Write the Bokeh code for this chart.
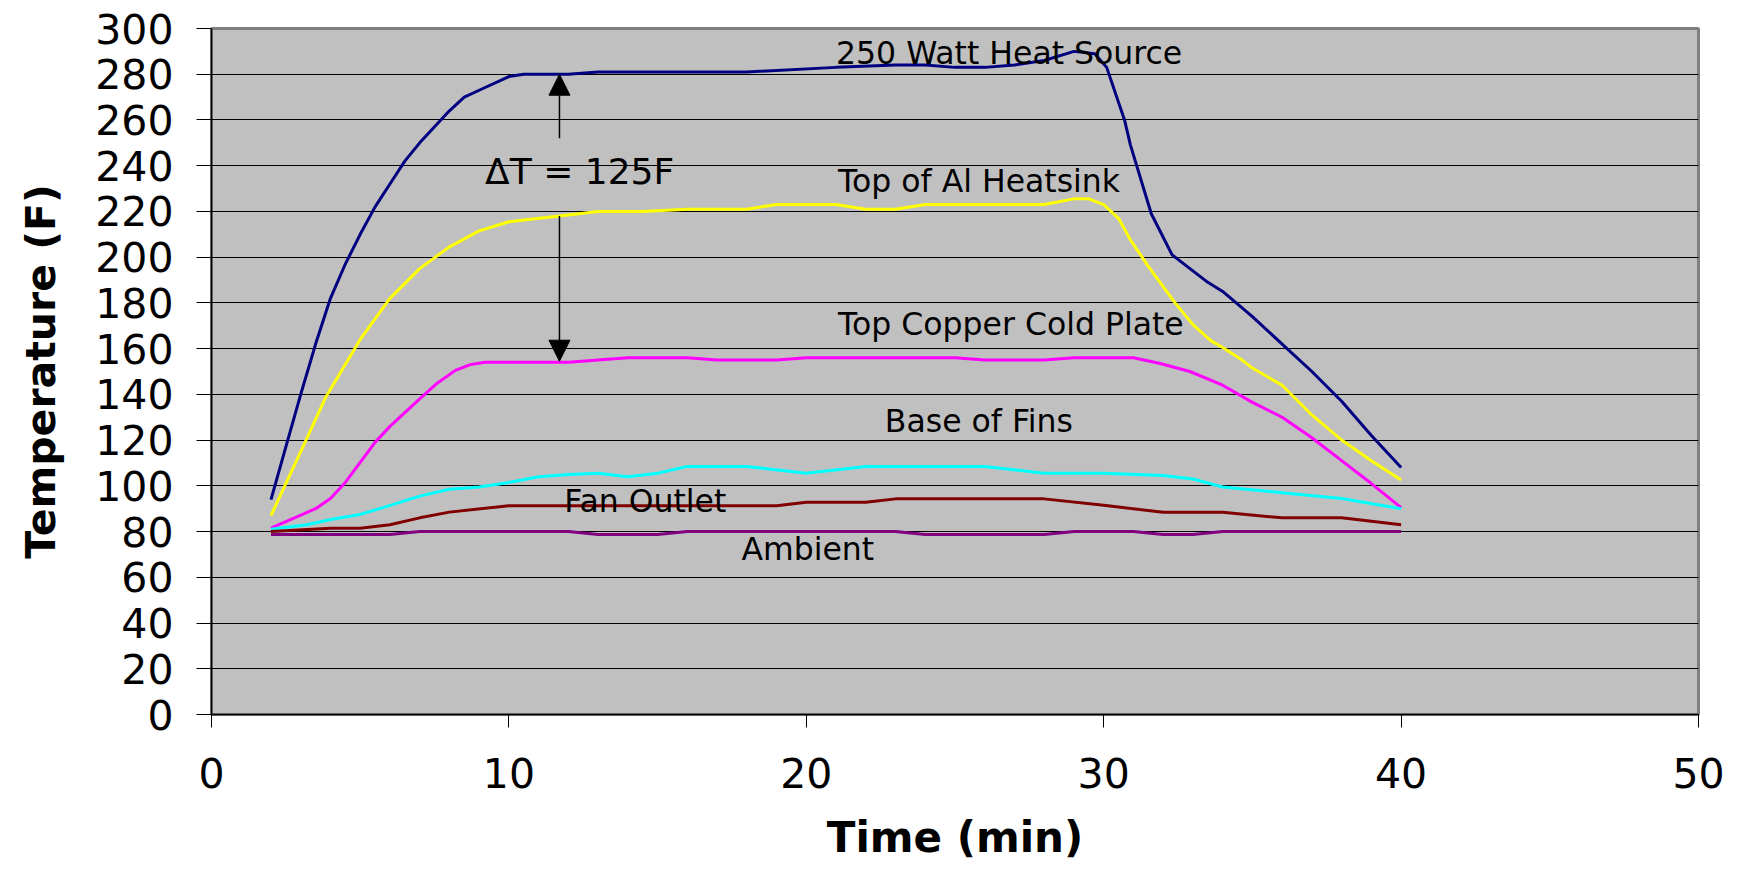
from bokeh.plotting import figure
from bokeh.models import Arrow, NormalHead, FixedTicker, Range1d, ColumnDataSource
from bokeh.core.properties import value
from bokeh.embed import file_html
from bokeh.resources import INLINE

# ---- data (time in minutes, temperature in F) ----
heat_t = [2, 2.5, 3, 3.5, 4, 4.5, 5, 5.5, 6, 6.5, 7, 8, 8.5, 9, 10, 10.5, 12, 13, 18, 21, 23, 24, 25, 26, 27, 28, 29, 29.7, 30.1, 30.7, 30.9, 31.6, 32.3, 33.5, 34, 35, 36, 37, 38, 39, 40]
heat_T = [94, 117, 140, 162, 182, 197, 210, 222, 232, 242, 250, 264, 270, 273, 279, 280, 280, 281, 281, 283, 284, 284, 283, 283, 284, 286, 290, 289, 283, 260, 249, 219, 201, 189, 185, 174, 162, 150, 137, 122, 108]

hsink_t = [2, 3, 3.85, 5, 6, 7, 8, 9, 10, 11.7, 13, 14.5, 16, 18, 19, 21, 22, 23, 24, 28, 29, 29.5, 30, 30.5, 30.9, 31.5, 32.4, 33, 33.6, 34, 34.6, 35, 36, 37, 38, 39, 40]
hsink_T = [87, 115, 139, 164, 182, 195, 204.5, 211.5, 215.5, 218, 220, 220, 221, 221, 223, 223, 221, 221, 223, 223, 225.5, 225.5, 223, 217, 207.5, 196, 180, 170.5, 163.5, 160.5, 155.5, 151.5, 144, 131, 120, 111, 102.5]

copper_t = [2, 3.5, 4, 4.5, 5.5, 6, 7, 7.6, 8.2, 8.7, 9.2, 12, 13, 14, 16, 17, 19, 20, 25, 26, 28, 29, 31, 31.9, 32.9, 34, 35, 36, 37, 38, 39, 40]
copper_T = [81.5, 90, 94.5, 101.5, 119, 126, 138, 145, 150.5, 153, 154, 154, 155, 156, 156, 155, 155, 156, 156, 155, 155, 156, 156, 153.5, 150, 144, 136.5, 130, 121, 111, 101, 90.5]

fins_t = [2, 3.2, 4.1, 5, 5.9, 7, 8, 9, 10, 11, 12, 13, 14, 15, 16, 18, 20, 22, 26, 28, 30, 32, 33, 34, 36, 38, 40]
fins_T = [81, 83, 85.5, 87.5, 91, 95.5, 98.5, 99.5, 101.5, 104, 105, 105.5, 104, 105.5, 108.5, 108.5, 105.5, 108.5, 108.5, 105.5, 105.5, 104.5, 103, 99.5, 97, 94.5, 90]

fan_t = [2, 4, 5, 6, 7, 8, 10, 12, 13, 19, 20, 22, 23, 28, 30, 32, 34, 36, 38, 40]
fan_T = [80, 81.5, 81.5, 83, 86, 88.5, 91.3, 91.3, 91.3, 91.3, 92.8, 92.8, 94.3, 94.3, 91.5, 88.4, 88.4, 86, 86, 83]

amb_t = [2, 6, 7, 12, 13, 15, 16, 23, 24, 28, 29, 31, 32, 33, 34, 40]
amb_T = [78.7, 78.7, 80, 80, 78.7, 78.7, 80, 80, 78.7, 78.7, 80, 80, 78.7, 78.7, 80, 80]

series_colors = ["#000080", "#FFFF00", "#FF00FF", "#00FFFF", "#800000", "#800080"]

label_texts = ["250 Watt Heat Source", "Top of Al Heatsink", "Top Copper Cold Plate",
               "Base of Fins", "Fan Outlet", "Ambient"]
label_x = [21.0, 21.07, 21.07, 22.64, 11.86, 17.82]
label_y = [289.5, 233.3, 170.6, 128.4, 93.4, 72.2]

delta_text = ["\u0394T = 125F"]
delta_x = [9.2]
delta_y = [237.5]

arrow_x = 11.7
arrow_up = (252, 280)
arrow_down = (218, 154.5)

x_ticks = [0, 10, 20, 30, 40, 50]
y_ticks = list(range(0, 301, 20))

# ---- figure ----
p = figure(width=1736, height=866, x_range=Range1d(0, 50), y_range=Range1d(0, 300),
           output_backend="svg", toolbar_location=None,
           min_border_left=211, min_border_right=38, min_border_top=28, min_border_bottom=152)

p.background_fill_color = "#C0C0C0"
p.border_fill_color = "white"
p.outline_line_color = "#808080"
p.outline_line_width = 3

p.xgrid.visible = False
p.ygrid.grid_line_color = "black"
p.ygrid.grid_line_width = 1

p.xaxis.ticker = FixedTicker(ticks=x_ticks)
p.yaxis.ticker = FixedTicker(ticks=y_ticks)

for ax in (p.xaxis[0], p.yaxis[0]):
    ax.major_label_text_font = "DejaVu Sans"
    ax.major_label_text_font_size = "41px"
    ax.major_label_text_color = "black"
    ax.axis_label_text_font = "DejaVu Sans"
    ax.axis_label_text_font_style = "bold"
    ax.axis_label_text_color = "black"
    ax.minor_tick_line_color = None
    ax.major_tick_in = 0
    ax.major_tick_line_color = "black"
    ax.major_tick_line_width = 1
    ax.axis_line_color = "black"
    ax.axis_line_width = 1.5

p.yaxis.major_tick_out = 15
p.yaxis.major_label_standoff = 23
p.yaxis.axis_label = "Temperature (F)"
p.yaxis.axis_label_text_font_size = "41px"
p.yaxis.axis_label_standoff = 27

p.xaxis.major_tick_out = 13
p.xaxis.major_label_standoff = 30
p.xaxis.axis_label = "Time (min)"
p.xaxis.axis_label_text_font_size = "42px"
p.xaxis.axis_label_standoff = 22

series = [(heat_t, heat_T), (hsink_t, hsink_T), (copper_t, copper_T),
          (fins_t, fins_T), (fan_t, fan_T), (amb_t, amb_T)]
for (tx, ty), c in zip(series, series_colors):
    p.line(tx, ty, line_color=c, line_width=3)

src = ColumnDataSource(dict(x=label_x, y=label_y, t=label_texts))
p.text(x="x", y="y", text="t", source=src, text_font=value("DejaVu Sans"),
       text_font_size="31.5px", text_color="black", text_align="left", text_baseline="alphabetic")

dsrc = ColumnDataSource(dict(x=delta_x, y=delta_y, t=delta_text))
p.text(x="x", y="y", text="t", source=dsrc, text_font=value("DejaVu Sans"),
       text_font_size="36px", text_color="black", text_align="left", text_baseline="alphabetic")

for (y0, y1) in (arrow_up, arrow_down):
    p.add_layout(Arrow(end=NormalHead(size=21, fill_color="black", line_color="black"),
                       x_start=arrow_x, y_start=y0, x_end=arrow_x, y_end=y1,
                       line_color="black", line_width=1.5))

open("out.html", "w").write(file_html(p, INLINE))
